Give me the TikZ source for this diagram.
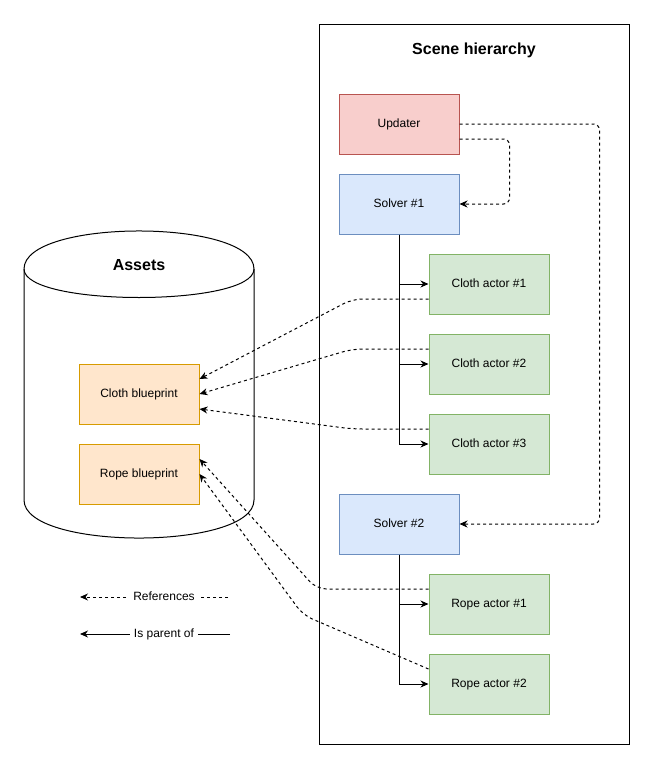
\documentclass[tikz,border=0pt]{standalone}
\usepackage{fontspec}
\setmainfont{Liberation Sans}
\usetikzlibrary{arrows.meta}
\definecolor{redfill}{HTML}{F8CECC}
\definecolor{redline}{HTML}{B85450}
\definecolor{bluefill}{HTML}{DAE8FC}
\definecolor{blueline}{HTML}{6C8EBF}
\definecolor{greenfill}{HTML}{D5E8D4}
\definecolor{greenline}{HTML}{82B366}
\definecolor{orangefill}{HTML}{FFE6CC}
\definecolor{orangeline}{HTML}{D79B00}
\begin{document}
\begin{tikzpicture}[x=1pt,y=-1pt,line width=1pt,
  font=\fontsize{12}{14}\selectfont,
  box/.style={rectangle,draw,minimum width=120pt,minimum height=60pt,inner sep=0pt,text height=9pt,text depth=3pt},
  updbox/.style={box,fill=redfill,draw=redline},
  solvbox/.style={box,fill=bluefill,draw=blueline},
  actbox/.style={box,fill=greenfill,draw=greenline},
  bpbox/.style={box,fill=orangefill,draw=orangeline},
  title/.style={font=\fontsize{16}{18}\selectfont\bfseries},
  tip/.style={-{Stealth[length=8pt,width=7pt,inset=2.5pt]}},
  ref/.style={tip,dash pattern=on 3pt off 3pt,line width=1pt},
  par/.style={tip},
  lbl/.style={fill=white,inner sep=4pt,text height=9pt,text depth=3pt}]
\useasboundingbox (0,0) rectangle (654,769);
\fill[white] (0,0) rectangle (654,769);

% Scene hierarchy container
\node (scene) [draw,minimum width=310pt,minimum height=720pt,inner sep=0pt] at (474,384) {};
\node (scenetitle) [title] at (474,50) {Scene hierarchy};

% Assets cylinder
\draw (24,269) .. controls (24,218.3) and (254,218.3) .. (254,269)
  -- (254,500) .. controls (254,550.7) and (24,550.7) .. (24,500) -- cycle;
\draw (24,269) .. controls (24,307) and (254,307) .. (254,269);
\node (assets) [title] at (139,265) {Assets};

% nodes
\node (upd) [updbox] at (399,124) {Updater};
\node (s1) [solvbox] at (399,204) {Solver \#1};
\node (ca1) [actbox] at (489,284) {Cloth actor \#1};
\node (ca2) [actbox] at (489,364) {Cloth actor \#2};
\node (ca3) [actbox] at (489,444) {Cloth actor \#3};
\node (s2) [solvbox] at (399,524) {Solver \#2};
\node (ra1) [actbox] at (489,604) {Rope actor \#1};
\node (ra2) [actbox] at (489,684) {Rope actor \#2};
\node (cb) [bpbox] at (139,394) {Cloth blueprint};
\node (rb) [bpbox] at (139,474) {Rope blueprint};

% parent edges
\draw[par] (s1.south) |- (ca1.west);
\draw[par] (s1.south) |- (ca2.west);
\draw[par] (s1.south) |- (ca3.west);
\draw[par] (s2.south) |- (ra1.west);
\draw[par] (s2.south) |- (ra2.west);

% reference edges
\draw[ref,rounded corners=6pt] (upd.east) -- ++(140,0) |- (s2.east);
\draw[ref,rounded corners=6pt] ([yshift=-15pt]upd.east) -- ++(50,0) |- (s1.east);
\draw[ref,rounded corners=10pt] ([yshift=-15pt]ca1.west) -- ++(-76,0) -- ([yshift=15pt]cb.east);
\draw[ref,rounded corners=10pt] ([yshift=15pt]ca2.west) -- ++(-76,0) -- (cb.east);
\draw[ref,rounded corners=10pt] ([yshift=15pt]ca3.west) -- ++(-76,0) -- ([yshift=-15pt]cb.east);
\draw[ref,rounded corners=10pt] ([yshift=15pt]ra1.west) -- ++(-112,0) -- ([yshift=15pt]rb.east);
\draw[ref,rounded corners=10pt] ([yshift=15pt]ra2.west) -- (303,615) -- (rb.east);

% legend
\coordinate (l1s) at (228,597);
\coordinate (l1e) at (80,597);
\draw[ref] (l1s) -- (l1e);
\node (l1t) [lbl] at (164,597) {References};
\coordinate (l2s) at (230,634);
\coordinate (l2e) at (80,634);
\draw[par] (l2s) -- (l2e);
\node (l2t) [lbl] at (164,634) {Is parent of};
\end{tikzpicture}
\end{document}
